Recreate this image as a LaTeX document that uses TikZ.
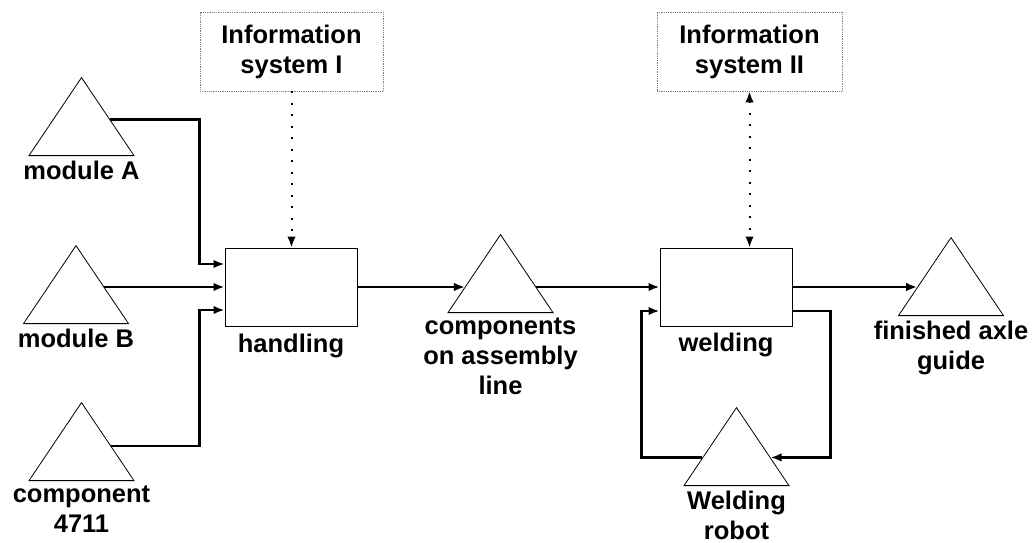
\documentclass[tikz,border=0pt]{standalone}
\usepackage{fontspec}
\setmainfont{Liberation Sans}
\usepackage{tikz}
\usetikzlibrary{arrows.meta,calc,positioning,shapes.geometric}
\tikzset{every picture/.style={
  >={Latex[length=11pt,width=8.5pt]} % LaTeX style arrows.
  }
}

\begin{document}
\begin{tikzpicture}[
    x=1pt,y=-1pt,
    lbl/.style={
      font=\fontsize{25.5}{30}\selectfont\bfseries,
      align=center,
      inner sep=2pt
    },
    stock/.style={
      isosceles triangle,
      shape border rotate=90,
      isosceles triangle stretches,
      minimum width=105pt,
      minimum height=78pt,
      inner sep=0pt,
      anchor=lower side,
      draw,
      line width=0.8pt
    },
    proc/.style={
      rectangle,
      minimum width=132pt,
      minimum height=78pt,
      draw,
      line width=1pt
    },
    info/.style={
      lbl,
      rectangle,
      minimum height=79pt,
      draw=gray,
      densely dotted,
      line width=0.8pt
    },
    flow/.style={->,line width=2.3pt},
    msg/.style={line width=2pt,dash pattern=on 2pt off 9.5pt}
  ]
  \useasboundingbox (0,0) rectangle (1033,543);

  % Draw the two information systems.
  \node[info,minimum width=183pt] (infoI) at (291.5,51.5) {Information\\system I};
  \node[info,minimum width=185pt] (infoII) at (749.5,51.5) {Information\\system II};

  % Draw the processing steps.
  \node[proc] (handl) at (291,287) {};
  \node[proc] (weld) at (726,287) {};
  \node[lbl,below=5pt of handl.south] (handll) {handling};
  \node[lbl,below=4pt of weld.south] (weldl) {welding};

  % Draw the stocks (placed by the middle of their base) and their labels.
  \node[stock] (modA) at (81.5,156) {};
  \node[stock] (modB) at (76,324) {};
  \node[stock] (comp) at (81.5,481) {};
  \node[stock] (asmb) at (500.5,313) {};
  \node[stock] (fin) at (951,316) {};
  \node[stock] (robot) at (736.5,486) {};

  \node[lbl,below=3pt of modA.lower side] (modAl) {module A};
  \node[lbl,below=3pt of modB.lower side] (modBl) {module B};
  \node[lbl,below=3pt of comp.lower side] (compl) {component\\4711};
  \node[lbl,below=3pt of asmb.lower side] (asmbl) {components\\on assembly\\line};
  \node[lbl,below=3pt of fin.lower side] (finl) {finished axle\\guide};
  \node[lbl,below=3pt of robot.lower side] (robotl) {Welding\\robot};

  % Points where the flows meet the sides of the triangles.
  \coordinate (aR) at ($(modA.apex)!0.54!(modA.right corner)$);
  \coordinate (bR) at ($(modB.apex)!0.53!(modB.right corner)$);
  \coordinate (cR) at ($(comp.apex)!0.56!(comp.right corner)$);
  \coordinate (sL) at ($(asmb.apex)!0.667!(asmb.left corner)$);
  \coordinate (sR) at ($(asmb.apex)!0.667!(asmb.right corner)$);
  \coordinate (fL) at ($(fin.apex)!0.635!(fin.left corner)$);
  \coordinate (rL) at ($(robot.apex)!0.64!(robot.left corner)$);
  \coordinate (rR) at ($(robot.apex)!0.64!(robot.right corner)$);

  % Feed the parts into the handling step.
  \draw[flow] (aR) -| ([xshift=-25pt,yshift=23pt]handl.west)
    -- ([yshift=23pt]handl.west);
  \draw[flow] (bR |- handl.west) -- (handl.west);
  \draw[flow] (cR) -| ([xshift=-25pt,yshift=-23pt]handl.west)
    -- ([yshift=-23pt]handl.west);

  % Main flow along the line.
  \draw[flow] (handl.east) -- (handl.east -| sL);
  \draw[flow] (weld.west -| sR) -- (weld.west);
  \draw[flow] (weld.east) -- (weld.east -| fL);

  % Loop through the welding robot.
  \draw[flow] ([yshift=-24pt]weld.east) -- ++(38,0) |- (rR);
  \draw[flow] (rL) -| ([xshift=-18pt,yshift=-24pt]weld.west)
    -- ([yshift=-24pt]weld.west);

  % Link the information systems to the steps.
  \draw[msg,->] (infoI.south) -- (infoI.south |- handl.north);
  \draw[msg,<->] (infoII.south) -- (infoII.south |- weld.north);
\end{tikzpicture}
\end{document}
